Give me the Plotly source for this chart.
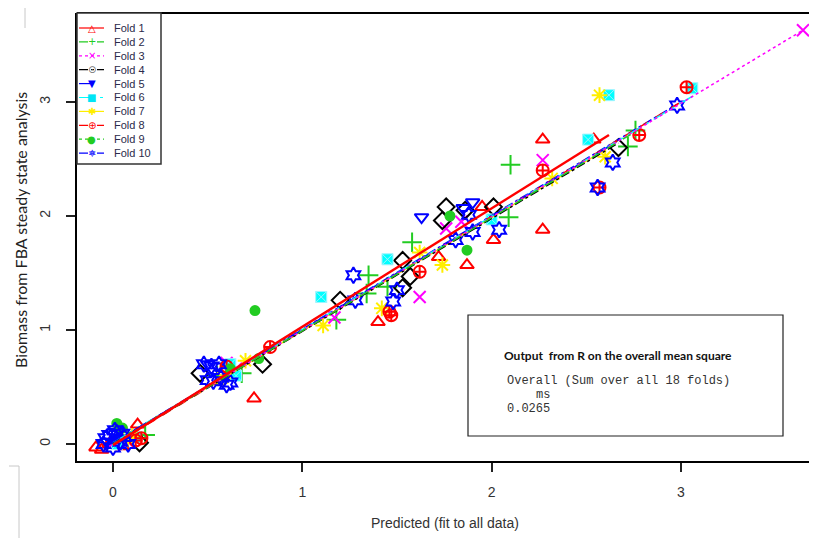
import plotly.graph_objects as go

# ---------------- data ----------------
fold_names = ["Fold 1", "Fold 2", "Fold 3", "Fold 4", "Fold 5",
              "Fold 6", "Fold 7", "Fold 8", "Fold 9", "Fold 10"]

fold1_x = [-0.09, -0.06, -0.02, 0.05, 0.13, 0.03, 0.60, 0.745, 1.40, 1.72, 1.87, 2.01, 2.27, 1.95, 2.27, 2.54]
fold1_y = [-0.03, -0.05, 0.00, -0.02, 0.17, 0.04, 0.66, 0.40, 1.07, 1.64, 1.57, 1.79, 1.88, 2.08, 2.67, 2.67]

fold2_x = [0.17, 0.03, 0.68, 0.55, 1.18, 1.34, 1.35, 1.45, 1.58, 2.09, 2.10, 2.72, 2.76]
fold2_y = [0.08, 0.12, 0.62, 0.60, 1.09, 1.32, 1.48, 1.38, 1.77, 1.99, 2.45, 2.61, 2.75]

fold3_x = [0.00, 0.08, 0.60, 0.65, 1.17, 1.62, 1.76, 1.84, 2.27, 3.645]
fold3_y = [0.05, 0.02, 0.71, 0.66, 1.11, 1.29, 1.89, 1.95, 2.49, 3.63]

fold4_x = [0.14, 0.46, 0.79, 1.20, 1.53, 1.57, 1.53, 1.76, 1.74, 1.86, 2.01, 2.67]
fold4_y = [0.01, 0.62, 0.70, 1.26, 1.61, 1.47, 1.37, 2.08, 1.96, 2.05, 2.08, 2.60]

fold5_x = [0.00, 0.05, -0.03, 0.50, 0.55, 0.58, 1.63, 1.85, 1.90]
fold5_y = [0.10, 0.05, 0.02, 0.70, 0.68, 0.55, 1.99, 2.07, 2.12]

fold6_x = [0.02, 0.12, 0.62, 0.65, 1.10, 1.45, 2.00, 2.51, 2.62, 3.06]
fold6_y = [0.00, 0.06, 0.70, 0.60, 1.29, 1.62, 1.97, 2.67, 3.06, 3.12]

fold7_x = [0.08, 0.10, 0.58, 0.70, 1.11, 1.42, 1.62, 1.74, 2.32, 2.57, 2.60]
fold7_y = [0.04, 0.07, 0.58, 0.73, 1.04, 1.19, 1.68, 1.57, 2.33, 3.06, 2.52]

fold8_x = [0.12, 0.15, 0.60, 0.83, 1.46, 1.47, 1.62, 2.27, 2.57, 2.78, 3.03]
fold8_y = [0.03, 0.05, 0.68, 0.85, 1.16, 1.13, 1.51, 2.40, 2.25, 2.71, 3.13]

fold9_x = [0.02, 0.05, 0.62, 0.77, 0.75, 1.78, 1.87]
fold9_y = [0.18, 0.14, 0.66, 0.75, 1.17, 2.00, 1.70]

fold10_x = [-0.05, -0.02, 0.00, 0.02, 0.04, 0.06, 0.08, -0.04, 0.01, 0.05,
            0.48, 0.52, 0.56, 0.60, 0.53, 0.57, 0.62, 0.50,
            1.27, 1.28, 1.48, 1.50, 1.81, 1.90, 2.04, 1.88, 2.56, 2.64, 2.98]
fold10_y = [0.00, 0.08, -0.03, 0.10, 0.02, 0.06, 0.00, 0.05, 0.12, 0.09,
            0.70, 0.68, 0.70, 0.52, 0.55, 0.58, 0.54, 0.56,
            1.48, 1.26, 1.25, 1.35, 1.79, 1.86, 1.88, 2.01, 2.25, 2.47, 2.97]

# fitted line end points for each fold
line_x = [[0.00, 2.62], [0.00, 2.76], [-0.02, 3.645], [0.00, 2.67], [-0.03, 2.64],
          [0.00, 3.06], [0.05, 2.60], [0.10, 3.03], [0.00, 1.87], [-0.05, 2.98]]
line_y = [[-0.01, 2.71], [0.00, 2.74], [-0.02, 3.63], [0.00, 2.64], [-0.02, 2.63],
          [0.01, 3.05], [0.05, 2.58], [0.09, 3.03], [0.01, 1.86], [-0.04, 2.98]]

x_ticks = [0, 1, 2, 3]
y_ticks = [0, 1, 2, 3]

# ---------------- styles ----------------
points_x = [fold1_x, fold2_x, fold3_x, fold4_x, fold5_x, fold6_x, fold7_x, fold8_x, fold9_x, fold10_x]
points_y = [fold1_y, fold2_y, fold3_y, fold4_y, fold5_y, fold6_y, fold7_y, fold8_y, fold9_y, fold10_y]
colors = ["#FF0000", "#22CC22", "#FF00FF", "#000000", "#0000FF",
          "#00FFFF", "#FFEE00", "#FF0000", "#22CC22", "#0000FF"]
symbols = ["triangle-up-open", "cross-thin-open", "x-thin-open", "diamond-open",
           "triangle-down-open", "square-x", "asterisk-open", "circle-cross-open",
           "circle", "hexagram-open"]
sizes = [12, 14, 12, 13, 12, 11, 13, 12, 9, 12]
dashes = ["solid", "dash", "dot", "dashdot", "longdash", "longdashdot",
          "solid", "dash", "dot", "dashdot"]
lwidths = [2.4, 1.5, 1.5, 1.5, 1.5, 1.5, 1.5, 1.5, 1.5, 1.5]
legend_glyphs = ["△", "+", "×", "⊙", "▼", "■", "✱", "⊕", "●", "✡"]
legend_glyph_colors = ["#FF0000", "#22CC22", "#FF00FF", "#707070", "#0000FF",
                       "#00E5F5", "#FFEE00", "#FF0000", "#22CC22", "#0000FF"]

fig = go.Figure()

for i in range(10):
    mk = dict(color=colors[i], symbol=symbols[i], size=sizes[i],
              line=dict(color=colors[i], width=2))
    if symbols[i] == "square-x":
        mk["line"] = dict(color="#9ff5ff", width=1)
    fig.add_trace(go.Scatter(x=points_x[i], y=points_y[i], mode="markers", name=fold_names[i],
                             marker=mk, showlegend=False, cliponaxis=True))

for i in reversed(range(10)):
    fig.add_trace(go.Scatter(x=line_x[i], y=line_y[i], mode="lines", name=fold_names[i],
                             line=dict(color=colors[i], width=lwidths[i], dash=dashes[i]),
                             showlegend=False))

# The page body has an 8px margin: lay the figure out so that reference pixel
# coordinates land where they belong.
OFF = 8
W, H = 817 - OFF, 538 - OFF
L, R, T, B = 77, 817, 13, 461          # plot frame in reference pixels


def px(xp):
    return (xp - L) / (R - L)


def py(yp):
    return (B - yp) / (B - T)


x_range = [(L - 113) / 189.3, (R - 113) / 189.3]
y_range = [(444 - B) / 114.0, (444 - T) / 114.0]

tick_font = dict(size=14, family="Liberation Sans Narrow, Arial Narrow, Liberation Sans", color="#333333")

fig.update_layout(
    width=W, height=H,
    margin=dict(l=L - OFF, r=0, t=T - OFF, b=(538 - B), pad=0),
    paper_bgcolor="white", plot_bgcolor="white",
    font=dict(family="Liberation Sans, Arial, sans-serif", color="#333333"),
    xaxis=dict(range=x_range, tickvals=x_ticks, ticktext=[str(v) for v in x_ticks],
               showgrid=False, zeroline=False, showline=True, linecolor="black", linewidth=2,
               ticks="outside", ticklen=9, tickwidth=1.5, tickcolor="#222222",
               tickfont=tick_font, ticklabelstandoff=8, automargin=False),
    yaxis=dict(range=y_range, tickvals=y_ticks, ticktext=[str(v) for v in y_ticks],
               showgrid=False, zeroline=False, showline=True, linecolor="black", linewidth=2,
               ticks="outside", ticklen=9, tickwidth=1.5, tickcolor="#222222", tickangle=-90,
               tickfont=tick_font, ticklabelstandoff=10, automargin=False),
    showlegend=False,
)

shapes = [
    # top frame line (right edge is off the picture)
    dict(type="line", xref="paper", yref="paper", x0=0, x1=1, y0=1, y1=1,
         line=dict(color="black", width=2)),
    # text box
    dict(type="rect", xref="paper", yref="paper", x0=px(468), x1=px(783), y0=py(436), y1=py(315),
         line=dict(color="#222222", width=1.2), fillcolor="white", layer="above"),
    # page-edge artefacts on the left
    dict(type="line", xref="paper", yref="paper", x0=px(19), x1=px(19), y0=py(466), y1=py(538),
         line=dict(color="#c8c8c8", width=1)),
    dict(type="line", xref="paper", yref="paper", x0=px(9), x1=px(19), y0=py(466), y1=py(466),
         line=dict(color="#c8c8c8", width=1)),
    dict(type="line", xref="paper", yref="paper", x0=px(25), x1=px(25), y0=py(8), y1=py(28),
         line=dict(color="#c8c8c8", width=1)),
    # legend box
    dict(type="rect", xref="paper", yref="paper", x0=px(77), x1=px(161), y0=py(164), y1=py(13),
         line=dict(color="#333333", width=1.5), fillcolor="white", layer="above"),
]

annotations = [
    dict(text="Predicted (fit to all data)", xref="paper", yref="paper", x=px(445), y=py(523),
         showarrow=False, xanchor="center", yanchor="middle",
         font=dict(size=14, family="Liberation Sans Narrow, Arial Narrow, Liberation Sans", color="#333333")),
    dict(text="Biomass from FBA steady state analysis", xref="paper", yref="paper", x=px(20), y=py(230),
         showarrow=False, xanchor="center", yanchor="middle", textangle=-90,
         font=dict(size=16, family="Lato, Open Sans, sans-serif", color="#222222")),
    dict(text="<b>Output  from R on the overall mean square</b>", xref="paper", yref="paper",
         x=px(502), y=py(355), showarrow=False, xanchor="left", yanchor="middle",
         font=dict(size=12, family="Lato, Open Sans, sans-serif", color="#111111")),
    dict(text="Overall (Sum over all 18 folds)", xref="paper", yref="paper",
         x=px(505), y=py(381), showarrow=False, xanchor="left", yanchor="middle",
         font=dict(size=12, family="Liberation Mono, DejaVu Sans Mono, monospace", color="#333333")),
    dict(text="ms", xref="paper", yref="paper",
         x=px(534), y=py(395), showarrow=False, xanchor="left", yanchor="middle",
         font=dict(size=12, family="Liberation Mono, DejaVu Sans Mono, monospace", color="#333333")),
    dict(text="0.0265", xref="paper", yref="paper",
         x=px(505), y=py(409), showarrow=False, xanchor="left", yanchor="middle",
         font=dict(size=12, family="Liberation Mono, DejaVu Sans Mono, monospace", color="#333333")),
]

# legend rows (drawn as layout decoration so rows can be as tight as in the reference)
for i in range(10):
    yr = 28 + 13.9 * i
    shapes.append(dict(type="line", xref="paper", yref="paper", x0=px(79), x1=px(104),
                       y0=py(yr), y1=py(yr), layer="above",
                       line=dict(color=colors[i], width=1.2, dash=dashes[i])))
    annotations.append(dict(text=legend_glyphs[i], xref="paper", yref="paper", x=px(91.5), y=py(yr),
                            showarrow=False, xanchor="center", yanchor="middle",
                            font=dict(size=10, family="DejaVu Sans", color=legend_glyph_colors[i])))
    annotations.append(dict(text=fold_names[i], xref="paper", yref="paper", x=px(112), y=py(yr),
                            showarrow=False, xanchor="left", yanchor="middle",
                            font=dict(size=11, family="Liberation Sans, Arial", color="#2a2a4a")))

fig.update_layout(shapes=shapes, annotations=annotations)

fig.write_html("out.html")
